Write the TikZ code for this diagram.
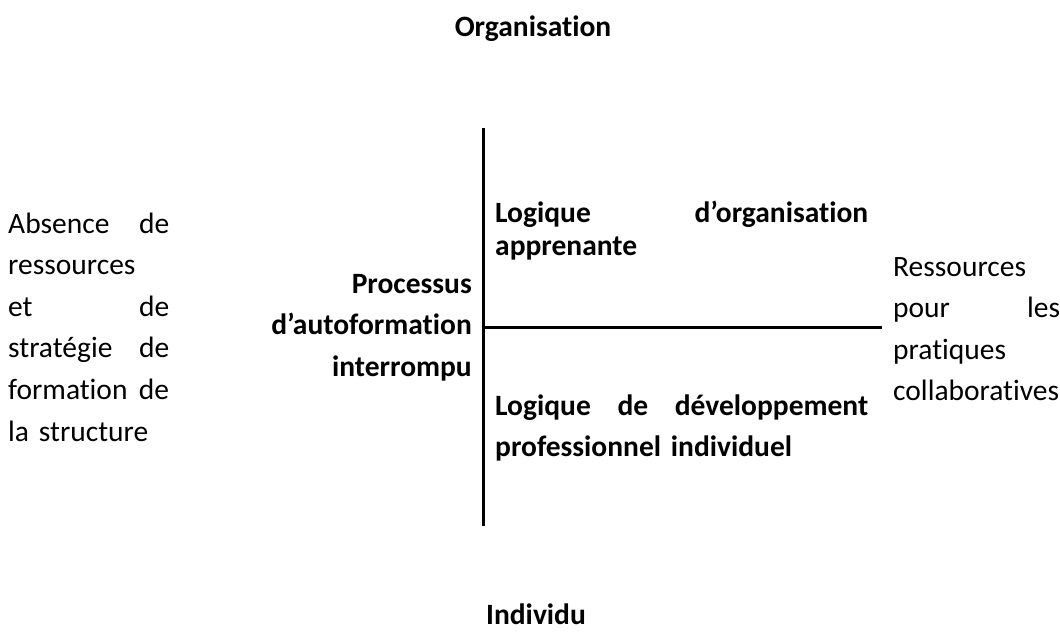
\documentclass[tikz,border=0pt]{standalone}
\usepackage{fontspec}
\setmainfont{Carlito}[Ligatures=NoCommon]
\usetikzlibrary{positioning}

\begin{document}
\begin{tikzpicture}[x=1pt,y=-1pt]

%FRAME
\useasboundingbox (0,0) rectangle (1060,633);

%%%%%%%%%%%%%%%%%%%%%%%%%%%%%%%%%%%%%%%%%%%%%%%%%%%%%%%%%%%%%%
%styles
\tikzstyle{titre}=[font=\fontsize{29.5}{35}\selectfont\bfseries,inner sep=0pt,anchor=base]
\tikzstyle{bloc}=[font=\fontsize{29.5}{41.6}\selectfont,inner sep=0pt,align=left,anchor=base west]
\tikzstyle{blocgras}=[bloc,font=\fontsize{29.5}{41.6}\selectfont\bfseries]
\tikzstyle{axe}=[line width=3pt]

%AXES
\coordinate (axeHaut) at (483.5,128);
\coordinate (axeBas) at (483.5,526);
\coordinate (axeMilieu) at (483.5,327);
\coordinate (axeDroite) at (882,327);
\draw[axe] (axeHaut) -- (axeBas);
\draw[axe] (axeMilieu) -- (axeDroite);

%poles
\node[titre] (organisation) at (533,36) {Organisation};
\node[titre] (individu) at (536,624) {Individu};

%left
\node[bloc,text width=161pt] (absence) at (8,233)
  {Absence\hfill de\\ressources\\et\hfill de\\strat\'egie\hfill de\\formation\hfill de\\la structure};
\node[blocgras,align=right,anchor=base east,text width=250pt] (processus) at (472,293)
  {Processus\\d'autoformation\\interrompu};

%quadrants
\node[blocgras,font=\fontsize{29.5}{33.5}\selectfont\bfseries,text width=373pt] (apprenante) at (495,222)
  {Logique\hfill d'organisation\\apprenante};
\node[blocgras,text width=373pt] (developpement) at (495,415)
  {Logique\hfill de\hfill d\'eveloppement\\professionnel individuel};

%right
\node[bloc,text width=167pt] (ressources) at (893,276)
  {Ressources\\pour\hfill les\\pratiques\\collaboratives};

\end{tikzpicture}
\end{document}
